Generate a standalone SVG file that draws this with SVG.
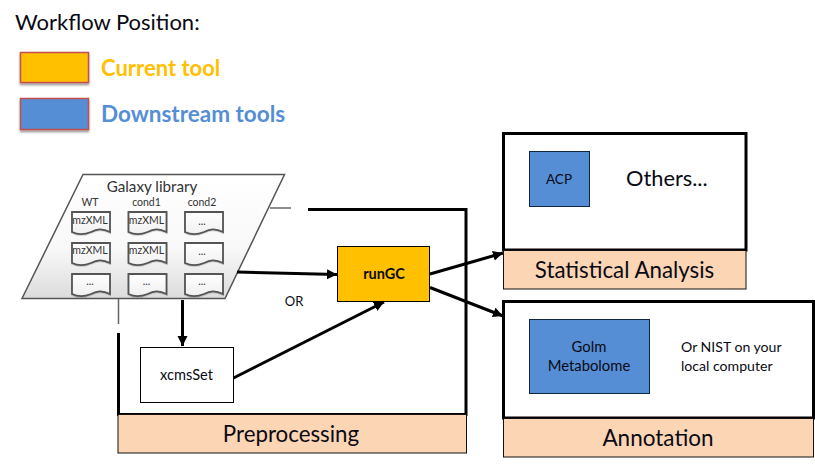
<svg xmlns="http://www.w3.org/2000/svg" width="815" height="465" viewBox="0 0 815 465">
<style>
text{font-family:Lato,"Open Sans","Liberation Sans",sans-serif;fill:#0a0a14}
.m{text-anchor:middle}
.frame{fill:none;stroke:#000;stroke-width:3}
.lab{fill:#fcd5b5;stroke:#111;stroke-width:1}
.blue{fill:#558ed5;stroke:#10253f;stroke-width:1}
.leg{stroke:#c0504d;stroke-width:1.5;filter:url(#sh)}
.doc{fill:url(#dg);stroke:#555;stroke-width:1.8;filter:url(#ds)}
.dt{font-size:10.500px;text-anchor:middle;fill:#333}
.ar{fill:none;stroke:#000;stroke-width:3;marker-end:url(#a)}
.gr{fill:none;stroke:#666;stroke-width:1.5}
</style>
<defs>
<marker id="a" markerUnits="userSpaceOnUse" markerWidth="12" markerHeight="12" refX="10" refY="5" orient="auto"><path d="M0 0L10 5L0 10z" fill="#000"/></marker>
<linearGradient id="pg" x1="0" y1="0" x2="0" y2="1"><stop offset="0" stop-color="#fff"/><stop offset="0.6" stop-color="#f8f8f8"/><stop offset="1" stop-color="#dcdcdc"/></linearGradient>
<linearGradient id="dg" x1="0" y1="0" x2="0" y2="1"><stop offset="0" stop-color="#fff"/><stop offset="1" stop-color="#f0f0f0"/></linearGradient>
<filter id="sh" x="-10%" y="-10%" width="120%" height="130%"><feDropShadow dx="0" dy="2" stdDeviation="1.2" flood-color="#000" flood-opacity=".4"/></filter>
<filter id="ds" x="-10%" y="-10%" width="120%" height="130%"><feDropShadow dx="0" dy="0.5" stdDeviation=".6" flood-color="#000" flood-opacity=".3"/></filter>
<path id="d" d="M0 0H38V20C30 16 25 17 19 20C12 23 6 23 0 20Z"/>
</defs>
<g id="legend">
<text x="15" y="30" font-size="22">Workflow Position:</text>
<rect class="leg" x="20.500" y="52.500" width="68" height="30" fill="#ffc000"/>
<text x="101" y="76" font-size="22" font-weight="700" style="fill:#ffc000">Current tool</text>
<rect class="leg" x="20.500" y="98.500" width="68" height="31" fill="#558ed5"/>
<text x="101" y="122" font-size="22.500" font-weight="700" style="fill:#558ed5">Downstream tools</text>
</g>
<g id="preprocessing">
<path class="frame" d="M308 209.500H466V414.500H118.500V333"/>
<rect class="lab" x="118" y="414.500" width="348.500" height="38.500"/>
<text class="m" x="291" y="442" font-size="22.300">Preprocessing</text>
</g>
<g id="statistical">
<rect class="frame" x="503.500" y="133.500" width="242.500" height="116.500"/>
<rect class="lab" x="503.500" y="250.500" width="242.500" height="38.500"/>
<text class="m" x="624.500" y="278" font-size="22.300">Statistical Analysis</text>
<text x="626" y="186" font-size="21.800">Others...</text>
</g>
<g id="acp">
<rect class="blue" x="529.500" y="151.500" width="60" height="55"/>
<text class="m" x="559" y="184" font-size="13.500">ACP</text>
</g>
<g id="annotation">
<rect class="frame" x="503.500" y="301.500" width="310" height="116.500"/>
<rect class="lab" x="503.500" y="418.500" width="310" height="38.500"/>
<text class="m" x="658" y="446" font-size="22.500">Annotation</text>
<text x="681" y="352" font-size="14.100">Or NIST on your</text>
<text x="681" y="371" font-size="14.100">local computer</text>
</g>
<g id="golm">
<rect class="blue" x="529.500" y="319.500" width="120" height="74"/>
<text class="m" x="589" y="352" font-size="14.800">Golm</text>
<text class="m" x="589" y="371" font-size="14.800">Metabolome</text>
</g>
<g id="galaxy">
<path d="M83 174.500H284.500L225 298.500H22Z" fill="url(#pg)" stroke="#555" stroke-width="1.500"/>
<text class="m" x="152" y="192" font-size="15.200" style="fill:#333">Galaxy library</text>
<text class="dt" x="90" y="206">WT</text>
<text class="dt" x="146.500" y="206">cond1</text>
<text class="dt" x="202" y="206">cond2</text>
<use href="#d" class="doc" x="72" y="212"/><text class="dt" x="90" y="224">mzXML</text>
<use href="#d" class="doc" x="128.500" y="212"/><text class="dt" x="146.500" y="224">mzXML</text>
<use href="#d" class="doc" x="185" y="212"/><text class="dt" x="202" y="225">...</text>
<use href="#d" class="doc" x="72" y="243"/><text class="dt" x="90" y="254">mzXML</text>
<use href="#d" class="doc" x="128.500" y="243"/><text class="dt" x="146.500" y="254">mzXML</text>
<use href="#d" class="doc" x="185" y="243"/><text class="dt" x="202" y="255">...</text>
<use href="#d" class="doc" x="72" y="274"/><text class="dt" x="90" y="285">...</text>
<use href="#d" class="doc" x="128.500" y="274"/><text class="dt" x="146.500" y="285">...</text>
<use href="#d" class="doc" x="185" y="274"/><text class="dt" x="202" y="285">...</text>
</g>
<g id="runGC">
<rect x="337.500" y="246.500" width="92" height="55" fill="#ffc000" stroke="#000" stroke-width="1"/>
<text class="m" x="384" y="279" font-size="14.500" font-weight="700">runGC</text>
</g>
<g id="xcmsSet">
<rect x="140.500" y="347.500" width="93" height="55" fill="#fff" stroke="#000" stroke-width="1"/>
<text class="m" x="186.500" y="380" font-size="14.600">xcmsSet</text>
</g>
<text class="m" x="294" y="306" font-size="13">OR</text>
<g id="connectors">
<path class="gr" d="M270 208H291"/>
<path class="gr" d="M118.500 299V324"/>
<path class="ar" d="M237 272L337 274.500"/>
<path class="ar" d="M182.500 300V346"/>
<path class="ar" d="M233.500 378L384 302"/>
<path class="ar" d="M430 274L503 253"/>
<path class="ar" d="M430 287.500L503 316"/>
</g>
</svg>
